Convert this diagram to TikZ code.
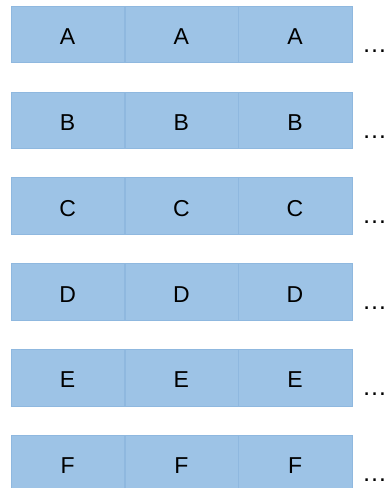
\documentclass[tikz,border=0pt]{standalone}
\usepackage{fontspec}
\setmainfont{Liberation Sans}
\usetikzlibrary{positioning}
\definecolor{cellblue}{RGB}{157,195,230}
\definecolor{celledge}{RGB}{143,184,223}

\begin{document}
\begin{tikzpicture}[
    x=1pt, y=1pt,
    node distance=0pt,
    cell/.style={fill=cellblue, draw=celledge, line width=0.4pt, minimum width=113.3pt, minimum height=56.5pt, inner sep=0pt, text height=21pt, text depth=0pt, font=\fontsize{23}{27}\selectfont},
    more/.style={anchor=base west, inner sep=0pt, font=\fontsize{25}{29}\selectfont}
]
\useasboundingbox (0,0) rectangle (388,-488);
% row A
\node[cell] (A1) at (67.65,-34.25) {A};
\node[cell, right=of A1] (A2) {A};
\node[cell, right=of A2] (A3) {A};
\node[more] (Adots) at ([xshift=10pt, yshift=-18pt]A3.east) {\ldots};
% row B
\node[cell, below=28.9pt of A1] (B1) {B};
\node[cell, right=of B1] (B2) {B};
\node[cell, right=of B2] (B3) {B};
\node[more] (Bdots) at ([xshift=10pt, yshift=-18pt]B3.east) {\ldots};
% row C
\node[cell, below=28.9pt of B1] (C1) {C};
\node[cell, right=of C1] (C2) {C};
\node[cell, right=of C2] (C3) {C};
\node[more] (Cdots) at ([xshift=10pt, yshift=-18pt]C3.east) {\ldots};
% row D
\node[cell, below=28.9pt of C1] (D1) {D};
\node[cell, right=of D1] (D2) {D};
\node[cell, right=of D2] (D3) {D};
\node[more] (Ddots) at ([xshift=10pt, yshift=-18pt]D3.east) {\ldots};
% row E
\node[cell, below=28.9pt of D1] (E1) {E};
\node[cell, right=of E1] (E2) {E};
\node[cell, right=of E2] (E3) {E};
\node[more] (Edots) at ([xshift=10pt, yshift=-18pt]E3.east) {\ldots};
% row F
\node[cell, below=28.9pt of E1] (F1) {F};
\node[cell, right=of F1] (F2) {F};
\node[cell, right=of F2] (F3) {F};
\node[more] (Fdots) at ([xshift=10pt, yshift=-18pt]F3.east) {\ldots};
\end{tikzpicture}
\end{document}
